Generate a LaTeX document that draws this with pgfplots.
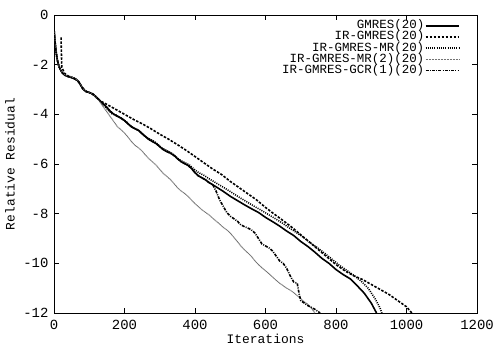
\documentclass[border=0pt]{standalone}
\usepackage{pgfplots}
\pgfplotsset{compat=1.18}
\usetikzlibrary{calc}
\usepackage{fontspec}
\setmainfont{Liberation Mono}
\begin{document}
\begin{tikzpicture}
\begin{axis}[
  name=ax,
  scale only axis, width=423bp, height=298bp,
  xmin=0, xmax=1200, ymin=-12, ymax=0,
  xtick={0,200,400,600,800,1000,1200},
  xticklabels={0,200,400,600,800,1000,1200},
  ytick={-12,-10,-8,-6,-4,-2,0},
  yticklabels={-12,-10,-8,-6,-4,-2,0},
  tick label style={font=\fontsize{14}{15}\selectfont},
  xticklabel style={yshift=-4bp},
  yticklabel style={xshift=-2bp},
  label style={font=\fontsize{13}{14}\selectfont},
  xlabel={Iterations}, ylabel={Relative Residual},
  xlabel style={at={(0.5,-0.088)}, anchor=center},
  ylabel style={at={(-0.104,0.5)}, anchor=center},
  major tick length=5bp, tick style={black, line width=0.5pt},
  axis line style={line width=0.6pt},
  legend style={draw=none, fill=none, at={(0.966,0.99)}, anchor=north east,
     font=\fontsize{12.5}{13}\selectfont, row sep=0pt,
     nodes={inner sep=0.6bp, text height=8bp, text depth=2bp}},
  legend cell align=right, legend plot pos=right,
  legend image code/.code={\draw[#1] (0bp,0bp) -- (33bp,0bp);},
]
% GMRES(20)
\addplot[black, line width=1.6pt] coordinates {
(0,-0.55)(3,-1.1)(6,-1.5)(10,-1.85)(15,-2.1)(22,-2.3)(30,-2.42)(40,-2.48)(50,-2.52)(60,-2.58)(68,-2.65)(75,-2.8)(82,-2.98)(90,-3.08)(100,-3.12)(110,-3.18)(120,-3.3)(130,-3.45)(140,-3.58)(150,-3.72)(160,-3.88)(170,-4.0)(180,-4.08)(190,-4.15)(200,-4.25)(210,-4.38)(220,-4.5)(230,-4.58)(240,-4.65)(250,-4.78)(260,-4.9)(270,-5.02)(280,-5.1)(290,-5.18)(300,-5.3)(310,-5.42)(320,-5.5)(330,-5.56)(340,-5.65)(350,-5.78)(360,-5.9)(370,-5.98)(380,-6.05)(390,-6.18)(400,-6.35)(410,-6.48)(420,-6.56)(430,-6.64)(440,-6.75)(460,-6.92)(480,-7.1)(500,-7.3)(520,-7.47)(540,-7.64)(560,-7.8)(580,-7.95)(600,-8.15)(620,-8.32)(640,-8.5)(660,-8.7)(680,-8.88)(700,-9.12)(720,-9.32)(740,-9.55)(760,-9.8)(780,-10.0)(800,-10.25)(820,-10.45)(840,-10.62)(860,-10.9)(880,-11.2)(900,-11.6)(915,-12)
};
\addlegendentry{GMRES(20)}
% IR-GMRES(20)
\addplot[black, line width=1.6pt, dash pattern=on 2.5pt off 1.5pt] coordinates {
(20,-0.9)(21,-1.5)(22,-2.1)(30,-2.35)(40,-2.45)(50,-2.52)(60,-2.58)(70,-2.7)(80,-2.92)(90,-3.06)(100,-3.12)(110,-3.2)(120,-3.32)(130,-3.45)(150,-3.6)(175,-3.8)(200,-4.0)(225,-4.2)(250,-4.38)(275,-4.58)(300,-4.8)(325,-5.0)(350,-5.22)(375,-5.45)(400,-5.7)(425,-5.95)(450,-6.2)(475,-6.42)(500,-6.7)(525,-6.95)(550,-7.2)(575,-7.45)(600,-7.75)(625,-8.02)(650,-8.28)(675,-8.55)(700,-8.85)(725,-9.15)(750,-9.45)(775,-9.75)(800,-10.05)(825,-10.3)(850,-10.5)(875,-10.65)(900,-10.85)(925,-11.05)(950,-11.25)(975,-11.5)(1000,-11.75)(1015,-12)
};
\addlegendentry{IR-GMRES(20)}
% IR-GMRES-MR(20)
\addplot[black, line width=1.6pt, dash pattern=on 1pt off 1.2pt] coordinates {
(0,-0.6)(4,-1.2)(8,-1.7)(12,-2.0)(18,-2.2)(25,-2.35)(35,-2.45)(50,-2.5)(60,-2.55)(70,-2.68)(78,-2.88)(86,-3.02)(95,-3.1)(105,-3.15)(115,-3.24)(125,-3.38)(135,-3.52)(145,-3.68)(155,-3.85)(165,-3.98)(175,-4.02)(185,-4.12)(195,-4.2)(205,-4.3)(215,-4.45)(225,-4.55)(235,-4.6)(245,-4.7)(255,-4.85)(265,-4.95)(275,-5.02)(285,-5.1)(295,-5.22)(305,-5.35)(315,-5.42)(325,-5.5)(335,-5.58)(345,-5.7)(355,-5.82)(365,-5.9)(375,-5.97)(385,-6.05)(395,-6.18)(405,-6.3)(415,-6.38)(425,-6.45)(435,-6.55)(450,-6.68)(470,-6.85)(490,-7.02)(510,-7.2)(530,-7.38)(550,-7.55)(570,-7.72)(590,-7.88)(610,-8.05)(630,-8.22)(650,-8.4)(670,-8.6)(690,-8.78)(710,-8.98)(730,-9.2)(750,-9.4)(770,-9.62)(790,-9.85)(810,-10.08)(830,-10.28)(850,-10.48)(870,-10.7)(890,-10.98)(910,-11.4)(925,-11.8)(930,-12)
};
\addlegendentry{IR-GMRES-MR(20)}
% IR-GMRES-MR(2)(20)
\addplot[black!55, line width=1.0pt, dash pattern=on 1pt off 0.5pt] coordinates {
(0,-0.6)(4,-1.2)(8,-1.7)(12,-2.0)(18,-2.2)(25,-2.35)(35,-2.45)(50,-2.5)(60,-2.55)(70,-2.68)(78,-2.88)(86,-3.02)(95,-3.1)(105,-3.15)(115,-3.24)(125,-3.4)(140,-3.7)(150,-3.9)(160,-4.1)(170,-4.3)(180,-4.5)(190,-4.62)(200,-4.75)(210,-4.92)(220,-5.1)(230,-5.25)(240,-5.35)(250,-5.48)(260,-5.65)(270,-5.8)(280,-5.92)(290,-6.05)(300,-6.22)(310,-6.38)(320,-6.5)(330,-6.62)(340,-6.78)(350,-6.95)(360,-7.08)(370,-7.18)(380,-7.3)(390,-7.45)(400,-7.6)(410,-7.72)(420,-7.85)(430,-7.95)(440,-8.05)(450,-8.18)(460,-8.3)(470,-8.42)(480,-8.55)(490,-8.65)(500,-8.78)(510,-8.95)(520,-9.12)(530,-9.3)(540,-9.45)(550,-9.58)(560,-9.72)(570,-9.9)(580,-10.05)(590,-10.18)(600,-10.3)(610,-10.42)(620,-10.55)(630,-10.68)(640,-10.8)(650,-10.9)(660,-11.0)(670,-11.08)(680,-11.18)(690,-11.3)(700,-11.42)(710,-11.55)(720,-11.65)(730,-11.8)(740,-12)
};
\addlegendentry{IR-GMRES-MR(2)(20)}
% IR-GMRES-GCR(1)(20)
\addplot[black, line width=1.6pt, dash pattern=on 3pt off 1.2pt on 1pt off 1.2pt] coordinates {
(0,-0.55)(3,-1.1)(6,-1.5)(10,-1.85)(15,-2.1)(22,-2.3)(30,-2.42)(40,-2.48)(50,-2.52)(60,-2.58)(68,-2.65)(75,-2.8)(82,-2.98)(90,-3.08)(100,-3.12)(110,-3.18)(120,-3.3)(130,-3.45)(140,-3.58)(150,-3.72)(160,-3.88)(170,-4.0)(180,-4.08)(190,-4.15)(200,-4.25)(210,-4.38)(220,-4.5)(230,-4.58)(240,-4.65)(250,-4.78)(260,-4.9)(270,-5.02)(280,-5.1)(290,-5.18)(300,-5.3)(310,-5.42)(320,-5.5)(330,-5.56)(340,-5.65)(350,-5.78)(360,-5.9)(370,-5.98)(380,-6.05)(390,-6.18)(400,-6.35)(410,-6.48)(420,-6.56)(430,-6.64)(440,-6.75)(450,-6.82)(460,-7.1)(470,-7.45)(480,-7.7)(490,-7.95)(500,-8.1)(510,-8.2)(520,-8.3)(530,-8.45)(540,-8.52)(550,-8.58)(560,-8.65)(570,-8.78)(580,-9.0)(590,-9.22)(600,-9.3)(610,-9.38)(620,-9.5)(630,-9.7)(640,-9.9)(650,-10.0)(660,-10.2)(670,-10.5)(680,-10.75)(690,-10.8)(695,-11.2)(700,-11.5)(710,-11.6)(720,-11.7)(740,-11.85)(755,-12)
};
\addlegendentry{IR-GMRES-GCR(1)(20)}
\end{axis}
\pgfresetboundingbox
\path[use as bounding box] ($(ax.south west)+(-54bp,-34bp)$) rectangle ($(ax.north east)+(18bp,15bp)$);
\end{tikzpicture}
\end{document}
